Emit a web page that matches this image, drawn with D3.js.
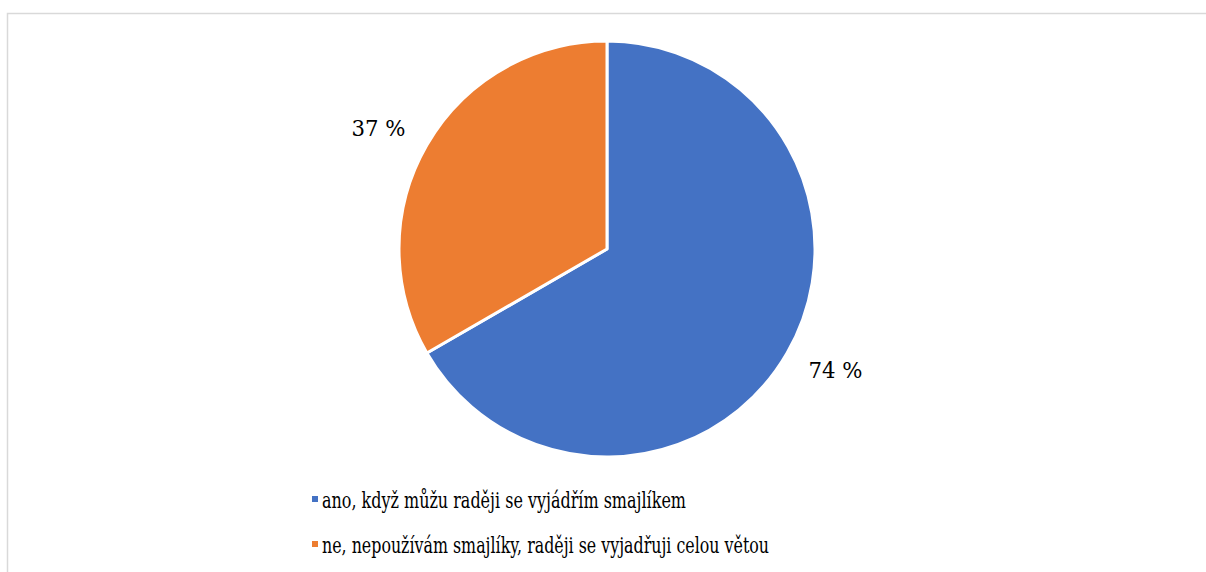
<!DOCTYPE html>
<html>
<head>
<meta charset="utf-8">
<script src="https://cdn.jsdelivr.net/npm/d3@7"></script>
<style>
  body { margin: 0; background: #fff; }
</style>
</head>
<body>
<svg width="1206" height="572"></svg>
<script>
// Chart data
const categories = [
    "ano, když můžu raději se vyjádřím smajlíkem",
    "ne, nepoužívám smajlíky, raději se vyjadřuji celou větou"
];
const values = [74, 37];
const valueLabels = ["74 %", "37 %"];
const colors = ["#4472C4", "#ED7D31"];

const fontFamily = "DejaVu Serif, serif";

const svg = d3.select("svg");
const width = +svg.attr("width");
const height = +svg.attr("height");

// Chart frame (only top and left edges fall inside the picture)
svg.append("rect")
    .attr("x", 7.5)
    .attr("y", 13.5)
    .attr("width", width + 20)
    .attr("height", height + 20)
    .attr("fill", "none")
    .attr("stroke", "#d9d9d9")
    .attr("stroke-width", 1.5);

const cx = 607, cy = 249, radius = 208;
const g = svg.append("g").attr("transform", `translate(${cx},${cy})`);

const pie = d3.pie().sort(null).value(d => d);
const arcs = pie(values);

const arc = d3.arc().innerRadius(0).outerRadius(radius);
const labelArc = d3.arc().innerRadius(258).outerRadius(258);

// Draw slices
g.selectAll("path")
    .data(arcs)
    .join("path")
    .attr("d", arc)
    .attr("fill", (d, i) => colors[i])
    .attr("stroke", "#fff")
    .attr("stroke-width", 3)
    .attr("stroke-linejoin", "round");

// Value labels outside each slice (nudged like Excel's outside-end)
g.selectAll("text.val")
    .data(arcs)
    .join("text")
    .attr("class", "val")
    .attr("transform", d => {
        const [x, y] = labelArc.centroid(d);
        return `translate(${x + Math.sign(x) * 5},${y - Math.sign(y) * 8})`;
    })
    .attr("text-anchor", "middle")
    .attr("dy", "0.33em")
    .attr("font-family", fontFamily)
    .attr("font-size", 23)
    .attr("textLength", 54)
    .attr("lengthAdjust", "spacingAndGlyphs")
    .text((d, i) => valueLabels[i]);

// Legend
const legend = svg.append("g").attr("transform", "translate(312,0)");
const legendY = [500, 545];
const legendWidths = [364, 447];

categories.forEach((c, i) => {
    legend.append("rect")
        .attr("x", 0)
        .attr("y", legendY[i] - 4)
        .attr("width", 6)
        .attr("height", 6)
        .attr("fill", colors[i]);
    legend.append("text")
        .attr("x", 10)
        .attr("y", legendY[i] + 8)
        .attr("textLength", legendWidths[i])
        .attr("lengthAdjust", "spacingAndGlyphs")
        .attr("font-family", fontFamily)
        .attr("font-size", 22)
        .text(c);
});
</script>
</body>
</html>
